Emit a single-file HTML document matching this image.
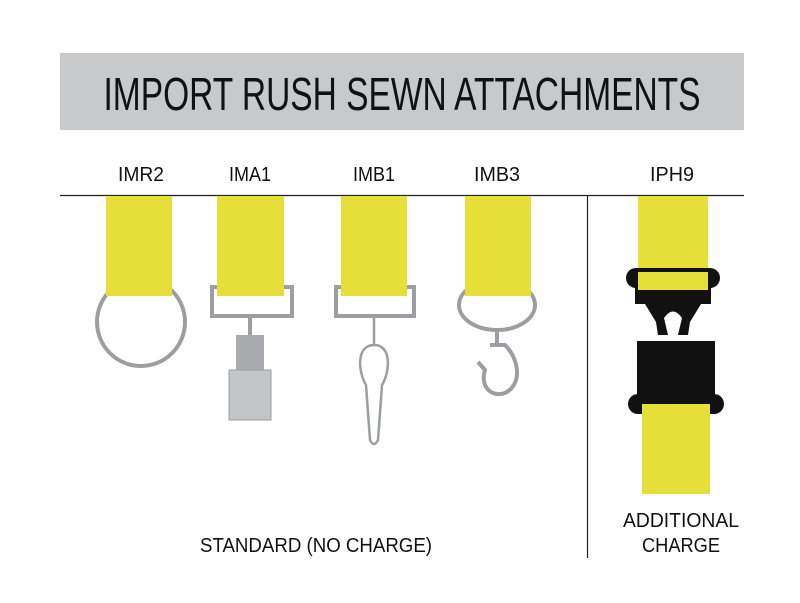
<!DOCTYPE html>
<html><head><meta charset="utf-8"><style>html,body{margin:0;padding:0;background:#fff}svg{display:block}</style></head>
<body>
<svg width="800" height="603" viewBox="0 0 800 603" xmlns="http://www.w3.org/2000/svg" font-family="Liberation Sans, sans-serif">
<rect x="0" y="0" width="800" height="603" fill="#fff"/>
<rect x="60" y="53" width="684" height="77" fill="#c8c9cb"/>
<text x="402" y="110" font-size="46" text-anchor="middle" textLength="597" lengthAdjust="spacingAndGlyphs" fill="#111">IMPORT RUSH SEWN ATTACHMENTS</text>
<g font-size="20" fill="#111" text-anchor="middle">
<text x="141" y="181" textLength="46" lengthAdjust="spacingAndGlyphs">IMR2</text>
<text x="250" y="181" textLength="42" lengthAdjust="spacingAndGlyphs">IMA1</text>
<text x="374" y="181" textLength="42" lengthAdjust="spacingAndGlyphs">IMB1</text>
<text x="497" y="181" textLength="46" lengthAdjust="spacingAndGlyphs">IMB3</text>
<text x="672" y="181" textLength="44" lengthAdjust="spacingAndGlyphs">IPH9</text>
<text x="316" y="552" textLength="232" lengthAdjust="spacingAndGlyphs">STANDARD (NO CHARGE)</text>
<text x="681" y="527" textLength="116" lengthAdjust="spacingAndGlyphs">ADDITIONAL</text>
<text x="681" y="552" textLength="78" lengthAdjust="spacingAndGlyphs">CHARGE</text>
</g>
<line x1="60" y1="195.5" x2="744" y2="195.5" stroke="#222" stroke-width="1.2"/>
<line x1="587.5" y1="196" x2="587.5" y2="558" stroke="#222" stroke-width="1.2"/>
<g fill="none" stroke="#9c9ea2" stroke-width="4">
<circle cx="141" cy="322" r="44"/>
<path d="M212 287 L292 287 L292 316 L212 316 Z"/>
<path d="M336 287 L414 287 L414 316 L336 316 Z"/>
<ellipse cx="497" cy="305" rx="38" ry="25"/>
<path d="M374 318 L374 345 M374 345 C356 345 358 372 366 385 L370 440 Q374 448 378 440 L382 385 C390 372 392 345 374 345" stroke-width="2.5"/>
<path d="M250 318 L250 340"/>
<path d="M497 330 L497 345 M490 345 L505 345 C520 360 522 385 505 393 C490 398 480 385 485 370 L478 362" stroke-width="4"/>
</g>
<rect x="236" y="335" width="28" height="38" fill="#a8aaad"/>
<rect x="229" y="370" width="42" height="50" fill="#c4c5c8" stroke="#9a9c9f"/>
<g fill="#e6df3a">
<rect x="106" y="196" width="66" height="100"/>
<rect x="217" y="196" width="67" height="100"/>
<rect x="341" y="196" width="66" height="100"/>
<rect x="465" y="196" width="66" height="100"/>
<rect x="638" y="196" width="70" height="96"/>
<rect x="642" y="404" width="68" height="90"/>
</g>
<g fill="#111">
<rect x="626" y="268" width="94" height="20" rx="10"/>
<rect x="635" y="286" width="76" height="18"/>
<path d="M645 304 L701 304 L690 322 L688 335 L678 335 L682 318 Q673 305 664 318 L668 335 L658 335 L656 322 Z"/>
<rect x="637" y="341" width="78" height="56"/>
<rect x="628" y="394" width="96" height="20" rx="10"/>
</g>
<rect x="638" y="272" width="70" height="18" fill="#e6df3a"/>
<rect x="642" y="404" width="68" height="14" fill="#e6df3a"/>
</svg>
</body></html>
